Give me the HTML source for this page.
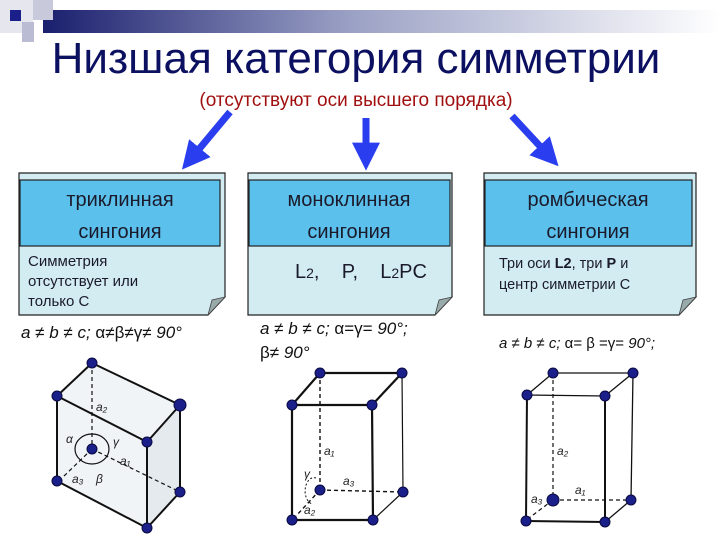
<!DOCTYPE html>
<html><head><meta charset="utf-8"><style>
html,body{margin:0;padding:0;background:#fff;overflow:hidden;}
svg{display:block;font-family:"Liberation Sans",sans-serif;}
</style></head><body>
<svg width="720" height="540" viewBox="0 0 720 540" xmlns="http://www.w3.org/2000/svg">
<defs>
<linearGradient id="bar" x1="0" x2="1" y1="0" y2="0">
<stop offset="0" stop-color="#1a1f6e"/><stop offset="0.45" stop-color="#9aa0c4"/><stop offset="1" stop-color="#ffffff"/>
</linearGradient>
<marker id="ah" markerWidth="4" markerHeight="4" refX="2.2" refY="2" orient="auto" markerUnits="strokeWidth">
<path d="M0,0 L4,2 L0,4 z" fill="#2a3ef0"/></marker>
</defs>
<rect x="43" y="10" width="677" height="23" fill="url(#bar)"/>
<rect x="0" y="0" width="33" height="33" fill="#e6e6ee"/>
<rect x="33" y="0" width="20" height="20" fill="#c8cadb"/>
<rect x="22" y="22" width="12" height="20" fill="#b9bcd2"/>
<rect x="10" y="10" width="11" height="11" fill="#1a1f8a"/>
<text x="356" y="73" font-size="44" fill="#0c1060" text-anchor="middle">Низшая категория симметрии</text>
<text x="356" y="106" font-size="19" fill="#a01010" text-anchor="middle">(отсутствуют оси высшего порядка)</text>
<g stroke="#2a3ef0" stroke-width="7" fill="none">
<line x1="230" y1="112" x2="190" y2="160" marker-end="url(#ah)"/>
<line x1="366" y1="118" x2="366" y2="158" marker-end="url(#ah)"/>
<line x1="512" y1="116" x2="550" y2="157" marker-end="url(#ah)"/>
</g>
<g stroke="#222" stroke-width="1.2">
<path d="M19,173 H225 V297 L208,315 H19 Z" fill="#d2ecf2"/>
<path d="M248,173 H452 V297 L435,315 H248 Z" fill="#d2ecf2"/>
<path d="M484,173 H696 V297 L679,315 H484 Z" fill="#d2ecf2"/>
<rect x="20" y="180" width="200" height="66" fill="#5cc0ec"/>
<rect x="249" y="180" width="201" height="66" fill="#5cc0ec"/>
<rect x="485" y="180" width="207" height="66" fill="#5cc0ec"/>
</g>
<g fill="#9aa" stroke="#444" stroke-width="0.8">
<path d="M208,315 L212,300 L225,297 Z"/>
<path d="M435,315 L439,300 L452,297 Z"/>
<path d="M679,315 L683,300 L696,297 Z"/>
</g>
<g font-size="20" fill="#1a1a2a" text-anchor="middle">
<text x="120" y="206">триклинная</text><text x="120" y="238">сингония</text>
<text x="349" y="206">моноклинная</text><text x="349" y="238">сингония</text>
<text x="588" y="206">ромбическая</text><text x="588" y="238">сингония</text>
</g>
<g font-size="15" fill="#1a1a2a">
<text x="28" y="266">Симметрия</text>
<text x="28" y="286">отсутствует  или</text>
<text x="28" y="306">только С</text>
<text x="295" y="278" font-size="20" xml:space="preserve">L<tspan font-size="14">2</tspan>,    P,    L<tspan font-size="14">2</tspan>PC</text>
<text x="499" y="268" font-size="14.5">Три оси <tspan font-weight="bold">L2</tspan>, три <tspan font-weight="bold">P</tspan> и</text>
<text x="499" y="289" font-size="14.5">центр симметрии С</text>
</g>
<g font-size="17" fill="#111" font-style="italic">
<text x="21" y="338">a ≠ b ≠ c;  <tspan font-style="normal">α≠β≠γ≠</tspan> 90°</text>
<text x="260" y="334">a ≠ b ≠ c;  <tspan font-style="normal">α=γ=</tspan> 90°;</text>
<text x="260" y="358"><tspan font-style="normal">β≠</tspan> 90°</text>
<text x="499" y="348" font-size="15">a ≠ b ≠ c;  <tspan font-style="normal">α= β =γ=</tspan> 90°;</text>
</g>
<!-- crystal 1 -->
<polygon points="92,363 180,405 180,492 147,528 57,481 57,396" fill="#f0f4f6"/>
<polygon points="180,405 180,492 147,528 147,442" fill="#e4eaee"/>
<g stroke="#111" stroke-width="2" fill="none">
<line x1="92" y1="363" x2="57" y2="396"/><line x1="92" y1="363" x2="180" y2="405"/>
<line x1="57" y1="396" x2="147" y2="442"/><line x1="180" y1="405" x2="147" y2="442"/>
<line x1="57" y1="396" x2="57" y2="481"/><line x1="147" y1="442" x2="147" y2="528"/>
<line x1="180" y1="405" x2="180" y2="492"/><line x1="57" y1="481" x2="147" y2="528"/>
<line x1="147" y1="528" x2="180" y2="492"/>
</g>
<g stroke="#111" stroke-width="1.2" stroke-dasharray="4,3" fill="none">
<line x1="92" y1="363" x2="92" y2="449"/><line x1="92" y1="449" x2="62" y2="478"/><line x1="92" y1="449" x2="180" y2="492"/>
</g>
<ellipse cx="92" cy="449" rx="17" ry="15" fill="none" stroke="#111" stroke-width="1.2"/>
<g fill="#1a1f8a" stroke="#0a0a40">
<circle cx="92" cy="363" r="5"/><circle cx="57" cy="396" r="5"/><circle cx="180" cy="405" r="6"/>
<circle cx="147" cy="442" r="5"/><circle cx="92" cy="449" r="5"/><circle cx="57" cy="481" r="5"/>
<circle cx="180" cy="492" r="5"/><circle cx="147" cy="528" r="5"/>
</g>
<g font-size="12" font-style="italic" fill="#222">
<text x="96" y="411">a₂</text><text x="66" y="443">α</text><text x="113" y="446">γ</text>
<text x="120" y="465">a₁</text><text x="72" y="483">a₃</text><text x="96" y="483">β</text>
</g>
<!-- crystal 2 -->
<g stroke="#111" stroke-width="2.2" fill="none">
<polygon points="320,373 402,373 372,405 292,405"/>
<line x1="292" y1="405" x2="292" y2="520"/><line x1="372" y1="405" x2="373" y2="520"/>
<line x1="402" y1="373" x2="403" y2="492" stroke-width="1.2"/>
<line x1="292" y1="520" x2="373" y2="520"/><line x1="373" y1="520" x2="403" y2="492" stroke-width="1.2"/>
</g>
<g stroke="#111" stroke-width="1.4" stroke-dasharray="4,3" fill="none">
<line x1="320" y1="373" x2="320" y2="490"/><line x1="320" y1="490" x2="403" y2="492"/><line x1="320" y1="490" x2="296" y2="516"/>
</g>
<path d="M316,478 A8,12 0 1 0 312,504" fill="none" stroke="#111" stroke-width="1" stroke-dasharray="2,2"/>
<g fill="#1a1f8a" stroke="#0a0a40">
<circle cx="320" cy="373" r="5"/><circle cx="402" cy="373" r="5"/><circle cx="292" cy="405" r="5"/><circle cx="372" cy="405" r="5"/>
<circle cx="320" cy="490" r="5"/><circle cx="403" cy="492" r="5"/><circle cx="292" cy="520" r="5"/><circle cx="373" cy="520" r="5"/>
</g>
<g font-size="12" font-style="italic" fill="#222">
<text x="324" y="455">a₁</text><text x="343" y="485">a₃</text><text x="304" y="478">γ</text><text x="304" y="514">a₂</text>
</g>
<!-- crystal 3 -->
<g stroke="#111" stroke-width="2" fill="none">
<polygon points="553,373 633,373 605,396 527,395" stroke-width="1.3"/>
<line x1="527" y1="395" x2="526" y2="521"/><line x1="605" y1="396" x2="605" y2="522"/>
<line x1="633" y1="373" x2="631" y2="500" stroke-width="1.3"/>
<line x1="526" y1="521" x2="605" y2="522"/><line x1="605" y1="522" x2="631" y2="500" stroke-width="1.3"/>
</g>
<g stroke="#111" stroke-width="1.2" stroke-dasharray="4,3" fill="none">
<line x1="553" y1="373" x2="553" y2="500"/><line x1="553" y1="500" x2="631" y2="500"/><line x1="553" y1="500" x2="529" y2="518"/>
</g>
<g fill="#1a1f8a" stroke="#0a0a40">
<circle cx="553" cy="373" r="5"/><circle cx="633" cy="373" r="5"/><circle cx="527" cy="395" r="5"/><circle cx="605" cy="396" r="5"/>
<circle cx="553" cy="500" r="6"/><circle cx="631" cy="500" r="5"/><circle cx="526" cy="521" r="5"/><circle cx="605" cy="522" r="5"/>
</g>
<g font-size="12" font-style="italic" fill="#222">
<text x="557" y="455">a₂</text><text x="575" y="494">a₁</text><text x="531" y="503">a₃</text>
</g>
</svg>
</body></html>
